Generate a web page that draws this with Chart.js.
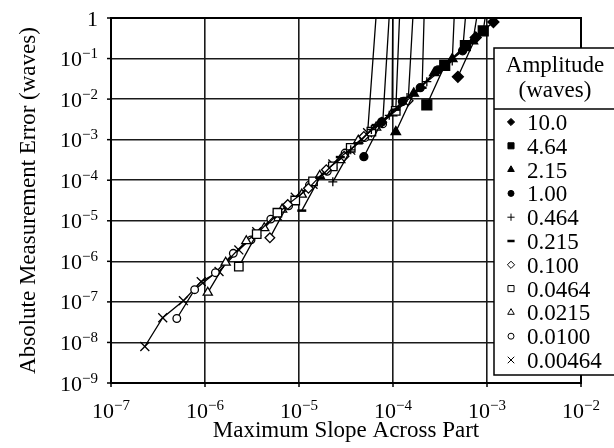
<!DOCTYPE html>
<html>
<head>
<meta charset="utf-8">
<script src="https://cdn.jsdelivr.net/npm/chart.js@4/dist/chart.umd.min.js"></script>
<style>
  body { margin: 0; background: #fff; }
  canvas { display: block; }
</style>
</head>
<body>
<canvas id="slopeChart" width="614" height="448"></canvas>
<script>
// Absolute measurement error vs maximum slope, one series per amplitude (waves).
// Points are [slope, error]; the last point of most series blows up above 1.

const amp10_0 = [[4.90e-4, 3.55e-2], [7.59e-4, 3.31e-1], [1.17e-3, 7.94e-1], [1.95e-3, 2.45]];
const amp4_64 = [[2.29e-4, 7.24e-3], [3.55e-4, 6.76e-2], [5.89e-4, 2.09e-1], [9.12e-4, 4.79e-1], [1.10e-3, 10]];
const amp2_15 = [[1.07e-4, 1.55e-3], [1.66e-4, 1.38e-2], [2.75e-4, 4.47e-2], [4.27e-4, 9.77e-2], [7.08e-4, 2.69e-1], [9.12e-4, 10]];
const amp1_00 = [[4.90e-5, 3.80e-4], [7.59e-5, 2.75e-3], [1.26e-4, 8.71e-3], [1.95e-4, 1.91e-2], [3.02e-4, 5.25e-2], [5.50e-4, 1.55e-1], [6.41e-4, 10]];
const amp0_464 = [[2.29e-5, 9.12e-5], [3.55e-5, 5.62e-4], [5.89e-5, 1.78e-3], [9.12e-5, 3.98e-3], [1.41e-4, 1.10e-2], [2.29e-4, 2.69e-2], [4.27e-4, 8.71e-2], [4.67e-4, 10]];
const amp0_215 = [[1.07e-5, 1.78e-5], [1.66e-5, 1.15e-4], [2.75e-5, 3.72e-4], [4.27e-5, 8.13e-4], [6.61e-5, 2.29e-3], [1.07e-4, 5.50e-3], [2.04e-4, 1.91e-2], [2.20e-4, 10]];
const amp0_100 = [[4.90e-6, 3.80e-6], [7.59e-6, 2.51e-5], [1.26e-5, 6.31e-5], [1.95e-5, 1.82e-4], [3.02e-5, 3.89e-4], [4.90e-5, 1.20e-3], [7.59e-5, 2.69e-3], [1.45e-4, 9.12e-3], [1.72e-4, 10]];
const amp0_0464 = [[2.29e-6, 7.41e-7], [3.55e-6, 4.68e-6], [5.89e-6, 1.58e-5], [9.12e-6, 3.16e-5], [1.41e-5, 9.33e-5], [2.29e-5, 2.19e-4], [3.55e-5, 6.31e-4], [5.89e-5, 1.58e-3], [1.07e-4, 5.13e-3], [1.22e-4, 10]];
const amp0_0215 = [[1.07e-6, 1.70e-7], [1.66e-6, 9.33e-7], [2.75e-6, 3.16e-6], [4.27e-6, 6.61e-6], [6.61e-6, 1.91e-5], [1.07e-5, 4.47e-5], [1.66e-5, 1.29e-4], [2.75e-5, 3.16e-4], [4.27e-5, 9.55e-4], [6.61e-5, 2.00e-3], [9.77e-5, 4.47e-3], [1.00e-4, 10]];
const amp0_0100 = [[5.01e-7, 3.89e-8], [7.76e-7, 2.00e-7], [1.29e-6, 5.25e-7], [2.00e-6, 1.58e-6], [3.09e-6, 3.39e-6], [5.01e-6, 1.10e-5], [7.76e-6, 2.34e-5], [1.29e-5, 7.59e-5], [2.00e-5, 1.66e-4], [3.09e-5, 4.68e-4], [5.01e-5, 1.12e-3], [7.76e-5, 2.45e-3], [9.66e-5, 10]];
const amp0_00464 = [[2.29e-7, 7.94e-9], [3.55e-7, 4.07e-8], [5.89e-7, 1.07e-7], [9.12e-7, 3.16e-7], [1.41e-6, 5.62e-7], [2.29e-6, 1.91e-6], [3.55e-6, 5.37e-6], [5.89e-6, 1.32e-5], [9.12e-6, 3.80e-5], [1.41e-5, 7.94e-5], [2.29e-5, 2.51e-4], [3.55e-5, 5.50e-4], [5.37e-5, 1.48e-3], [7.08e-5, 10]];

const amplitudeLabels = ['10.0', '4.64', '2.15', '1.00', '0.464', '0.215', '0.100', '0.0464', '0.0215', '0.0100', '0.00464'];
const seriesData = [amp10_0, amp4_64, amp2_15, amp1_00, amp0_464, amp0_215, amp0_100, amp0_0464, amp0_0215, amp0_0100, amp0_00464];

const xDecades = [1e-7, 1e-6, 1e-5, 1e-4, 1e-3, 1e-2];
const yDecades = [1e-9, 1e-8, 1e-7, 1e-6, 1e-5, 1e-4, 1e-3, 1e-2, 1e-1, 1];

// marker look per series (same order as the labels)
const markerStyles = [
    { style: 'rectRot', filled: true, r: 5.5, lr: 3.6 },
    { style: 'rect', filled: true, r: 7, lr: 4.3 },
    { style: 'triangle', filled: true, r: 5.5, lr: 3.8 },
    { style: 'circle', filled: true, r: 4, lr: 3 },
    { style: 'cross', filled: false, r: 4.5, lr: 3.6 },
    { style: 'line', filled: false, r: 4.5, lr: 3.6, bw: 2.5 },
    { style: 'rectRot', filled: false, r: 4.8, lr: 3.6 },
    { style: 'rect', filled: false, r: 6, lr: 4.3 },
    { style: 'triangle', filled: false, r: 5.3, lr: 3.8 },
    { style: 'circle', filled: false, r: 3.8, lr: 3 },
    { style: 'crossRot', filled: false, r: 6.3, lr: 4.6 }
];

const SERIF = '"Liberation Serif", "Times New Roman", serif';

function drawPower(ctx, value, x, baseline, align) {
    const exp = Math.round(Math.log10(value));
    const base = exp === 0 ? '1' : '10';
    const sup = exp === 0 ? '' : (exp < 0 ? '\u2212' : '') + Math.abs(exp);
    ctx.font = '22px ' + SERIF;
    const wb = ctx.measureText(base).width;
    ctx.font = '15px ' + SERIF;
    const ws = ctx.measureText(sup).width;
    const left = align === 'center' ? x - (wb + ws) / 2 : x - wb - ws;
    ctx.textAlign = 'left';
    ctx.textBaseline = 'alphabetic';
    ctx.font = '22px ' + SERIF;
    ctx.fillText(base, left, baseline);
    ctx.font = '15px ' + SERIF;
    ctx.fillText(sup, left + wb, baseline - 8);
}

const axisDecor = {
    id: 'axisDecor',
    afterDatasetsDraw(chart) {
        const { ctx, chartArea: a, scales } = chart;
        ctx.save();
        ctx.strokeStyle = '#000';
        ctx.fillStyle = '#000';
        ctx.lineWidth = 2;
        ctx.strokeRect(a.left, a.top, a.right - a.left, a.bottom - a.top);

        // outward tick marks
        ctx.lineWidth = 1.5;
        xDecades.forEach(v => {
            const px = scales.x.getPixelForValue(v);
            ctx.beginPath(); ctx.moveTo(px, a.bottom); ctx.lineTo(px, a.bottom + 4); ctx.stroke();
            drawPower(ctx, v, px, 418, 'center');
        });
        yDecades.forEach(v => {
            const py = scales.y.getPixelForValue(v);
            ctx.beginPath(); ctx.moveTo(a.left - 4, py); ctx.lineTo(a.left, py); ctx.stroke();
            drawPower(ctx, v, 98, py + 7.5, 'right');
        });

        ctx.font = '23px ' + SERIF;
        ctx.textAlign = 'center';
        ctx.textBaseline = 'alphabetic';
        ctx.fillText('Maximum Slope Across Part', (a.left + a.right) / 2, 437);
        ctx.translate(35, (a.top + a.bottom) / 2);
        ctx.rotate(-Math.PI / 2);
        ctx.fillText('Absolute Measurement Error (waves)', 0, 0);
        ctx.restore();
    }
};

const amplitudeLegend = {
    id: 'amplitudeLegend',
    afterDraw(chart) {
        const ctx = chart.ctx;
        const box = { left: 494, top: 48, right: 616, bottom: 375 };
        ctx.save();
        ctx.fillStyle = '#fff';
        ctx.fillRect(box.left, box.top, box.right - box.left, box.bottom - box.top);
        ctx.strokeStyle = '#000';
        ctx.lineWidth = 1.5;
        ctx.strokeRect(box.left, box.top, box.right - box.left, box.bottom - box.top);
        ctx.beginPath(); ctx.moveTo(box.left, 109); ctx.lineTo(box.right, 109); ctx.stroke();

        ctx.fillStyle = '#000';
        ctx.font = '23px ' + SERIF;
        ctx.textAlign = 'center';
        ctx.textBaseline = 'alphabetic';
        ctx.fillText('Amplitude', 555, 72);
        ctx.fillText('(waves)', 555, 97);

        ctx.textAlign = 'left';
        amplitudeLabels.forEach((label, i) => {
            const cy = 122 + i * 23.8;
            const m = markerStyles[i];
            ctx.fillStyle = m.filled ? '#000' : '#fff';
            ctx.strokeStyle = '#000';
            ctx.lineWidth = m.bw || 1;
            Chart.helpers.drawPoint(ctx, { pointStyle: m.style, radius: m.lr, rotation: 0, borderWidth: m.bw || 1 }, 511, cy);
            ctx.fillStyle = '#000';
            ctx.font = '23px ' + SERIF;
            ctx.fillText(label, 527, cy + 8);
        });
        ctx.restore();
    }
};

const datasets = seriesData.map((points, i) => {
    const m = markerStyles[i];
    return {
        label: amplitudeLabels[i],
        data: points,
        borderColor: '#000',
        borderWidth: 1.3,
        tension: 0,
        fill: false,
        pointStyle: m.style,
        pointRadius: m.r,
        pointBorderWidth: m.bw || 1.3,
        pointBorderColor: '#000',
        pointBackgroundColor: m.filled ? '#000' : '#fff'
    };
});

const gridOpts = { color: '#1a1a1a', lineWidth: 1.6, drawTicks: false };

new Chart(document.getElementById('slopeChart').getContext('2d'), {
    type: 'line',
    data: { datasets: datasets },
    options: {
        responsive: false,
        animation: false,
        layout: { padding: { left: 111, top: 18, right: 33, bottom: 65 } },
        plugins: { legend: { display: false }, tooltip: { enabled: false } },
        scales: {
            x: {
                type: 'logarithmic', min: 1e-7, max: 1e-2,
                afterBuildTicks: s => { s.ticks = xDecades.map(v => ({ value: v })); },
                ticks: { display: false },
                grid: gridOpts,
                border: { display: false }
            },
            y: {
                type: 'logarithmic', min: 1e-9, max: 1,
                afterBuildTicks: s => { s.ticks = yDecades.map(v => ({ value: v })); },
                ticks: { display: false },
                grid: gridOpts,
                border: { display: false }
            }
        }
    },
    plugins: [axisDecor, amplitudeLegend]
});
</script>
</body>
</html>
